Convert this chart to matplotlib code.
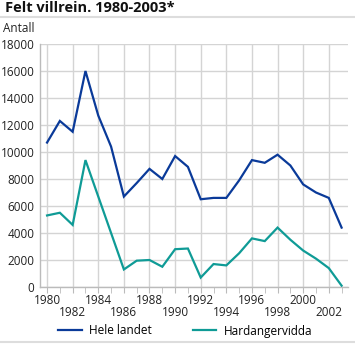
import matplotlib
matplotlib.use("Agg")
import matplotlib.pyplot as plt
from matplotlib.lines import Line2D

years = list(range(1980, 2004))
hele_landet = [10700, 12300, 11500, 16000, 12700, 10400, 6700, 7700, 8750, 8000,
               9700, 8900, 6500, 6600, 6600, 7900, 9400, 9200, 9800, 9000,
               7600, 7000, 6600, 4400]
hardangervidda = [5300, 5500, 4600, 9400, 6700, 4000, 1300, 1950, 2000, 1500,
                  2800, 2850, 700, 1700, 1600, 2500, 3600, 3400, 4400, 3500,
                  2700, 2100, 1400, 100]
series_names = ["Hele landet", "Hardangervidda"]
yticks = list(range(0, 18001, 2000))
xtick_years = list(range(1980, 2003, 2))

plt.rcParams['font.family'] = ['Open Sans', 'DejaVu Sans']

W, H = 355, 344
fig = plt.figure(figsize=(W / 100, H / 100), dpi=100)
ax = fig.add_axes([40 / W, 1 - 287 / H, (348 - 40) / W, (287 - 44) / H])

blue = "#0a3a99"
teal = "#0f9b96"
grid = "#d4d4d4"

ax.plot(years, hele_landet, color=blue, lw=1.6, solid_joinstyle='miter', zorder=3)
ax.plot(years, hardangervidda, color=teal, lw=1.6, solid_joinstyle='miter', zorder=3)

ax.set_xlim(1979.45, 2003.5)
ax.set_ylim(0, 18000)
ax.set_yticks(yticks)
ax.set_yticklabels([str(v) for v in yticks], fontsize=8.5, color="#222222")
ax.set_xticks(xtick_years)
ax.set_xticklabels([str(y) if i % 2 == 0 else "\n" + str(y) for i, y in enumerate(xtick_years)],
                   fontsize=8.5, color="#222222", linespacing=0.95)
ax.set_xticks(years, minor=True)
ax.tick_params(axis='x', which='both', length=4, color="#bbbbbb", pad=1)
ax.tick_params(axis='y', length=0, pad=4)

ax.grid(True, color=grid, lw=1.0, zorder=0)
for s in ["top", "right"]:
    ax.spines[s].set_visible(False)
for s in ["left", "bottom"]:
    ax.spines[s].set_color("#bbbbbb")
    ax.spines[s].set_linewidth(1.0)

fig.text(5 / W, 1 - 8.5 / H, "Felt villrein. 1980-2003*", fontsize=10.5, fontweight='bold',
         va='center', ha='left', color="#111111")
fig.add_artist(Line2D([0, 1], [1 - 17 / H, 1 - 17 / H], color="#dddddd", lw=1.5))
fig.text(3 / W, 1 - 29 / H, "Antall", fontsize=8.5, va='center', ha='left', color="#222222")
fig.add_artist(Line2D([0, 1], [1 - 342 / H, 1 - 342 / H], color="#dddddd", lw=1.5))

handles = [Line2D([], [], color=blue, lw=1.6), Line2D([], [], color=teal, lw=1.6)]
fig.legend(handles, series_names, loc='center', bbox_to_anchor=(185 / W, 1 - 331 / H),
           ncol=2, frameon=False, fontsize=8.5, handlelength=2.0, handletextpad=0.6,
           columnspacing=3.5)

fig.savefig("out.png", dpi=100)
